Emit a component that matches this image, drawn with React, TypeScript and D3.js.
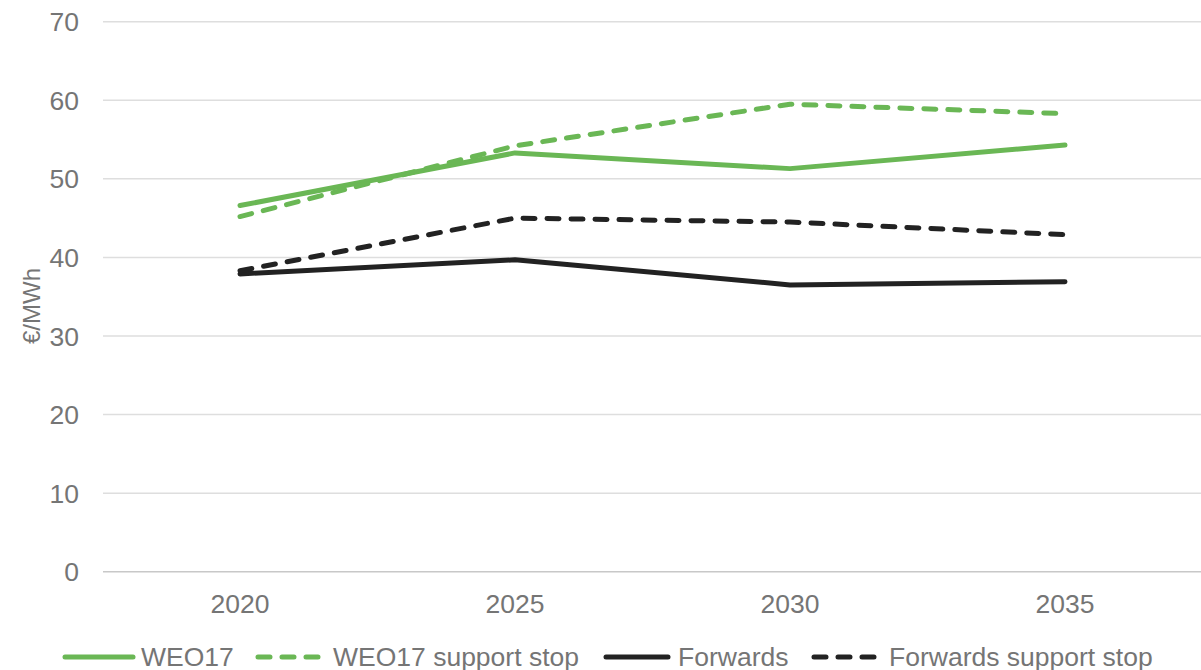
import React from "react";
import * as d3 from "d3";

const years = ["2020", "2025", "2030", "2035"];
const weo17 = [46.6, 53.3, 51.3, 54.3];
const weo17Stop = [45.2, 54.2, 59.5, 58.3];
const forwards = [37.9, 39.7, 36.5, 36.9];
const forwardsStop = [38.3, 45.0, 44.5, 42.9];
const yTicks = [0, 10, 20, 30, 40, 50, 60, 70];

const GREEN = "#6ab755";
const BLACK = "#222222";
const TEXT = "#757575";

const series = [
  { name: "WEO17", values: weo17, color: GREEN, dashed: false },
  { name: "WEO17 support stop", values: weo17Stop, color: GREEN, dashed: true },
  { name: "Forwards", values: forwards, color: BLACK, dashed: false },
  { name: "Forwards support stop", values: forwardsStop, color: BLACK, dashed: true },
];

const legendPos = [
  { x1: 65, x2: 133, tx: 141 },
  { x1: 258, x2: 318, tx: 333 },
  { x1: 606, x2: 668, tx: 678 },
  { x1: 814, x2: 874, tx: 889 },
];

export default function App() {
  const W = 1201, H = 670;
  const x = d3.scaleBand().domain(years).range([102.5, 1202.5]);
  const y = d3.scaleLinear().domain([0, 70]).range([571.7, 21.7]);
  const line = d3
    .line<number>()
    .x((_, i) => (x(years[i]) as number) + x.bandwidth() / 2)
    .y((d) => y(d));

  return (
    <svg
      width={W}
      height={H}
      style={{ position: "absolute", left: 0, top: 0, background: "#fff" }}
      fontFamily="'Liberation Sans', Arial, sans-serif"
    >
      {yTicks.map((t) => (
        <g key={t}>
          <line
            x1={103}
            x2={W}
            y1={y(t)}
            y2={y(t)}
            stroke={t === 0 ? "#c8c8c8" : "#dedede"}
            strokeWidth={1.5}
          />
          <text x={79} y={y(t)} dy="0.36em" textAnchor="end" fontSize={26.5} fill={TEXT}>
            {t}
          </text>
        </g>
      ))}
      {years.map((yr) => (
        <text
          key={yr}
          x={(x(yr) as number) + x.bandwidth() / 2}
          y={613}
          textAnchor="middle"
          fontSize={26.5}
          fill={TEXT}
        >
          {yr}
        </text>
      ))}
      <text
        transform={`translate(40,306) rotate(-90)`}
        textAnchor="middle"
        fontSize={24}
        fill={TEXT}
      >
        €/MWh
      </text>
      {series.map((s) => (
        <path
          key={s.name}
          d={line(s.values) as string}
          fill="none"
          stroke={s.color}
          strokeWidth={5}
          strokeLinecap="round"
          strokeLinejoin="round"
          strokeDasharray={s.dashed ? "12 12" : undefined}
        />
      ))}
      {series.map((s, i) => (
        <g key={s.name}>
          <line
            x1={legendPos[i].x1}
            x2={legendPos[i].x2}
            y1={657}
            y2={657}
            stroke={s.color}
            strokeWidth={5}
            strokeLinecap="round"
            strokeDasharray={s.dashed ? "12 12" : undefined}
          />
          <text x={legendPos[i].tx} y={666} fontSize={26.5} fill={TEXT}>
            {s.name}
          </text>
        </g>
      ))}
    </svg>
  );
}
